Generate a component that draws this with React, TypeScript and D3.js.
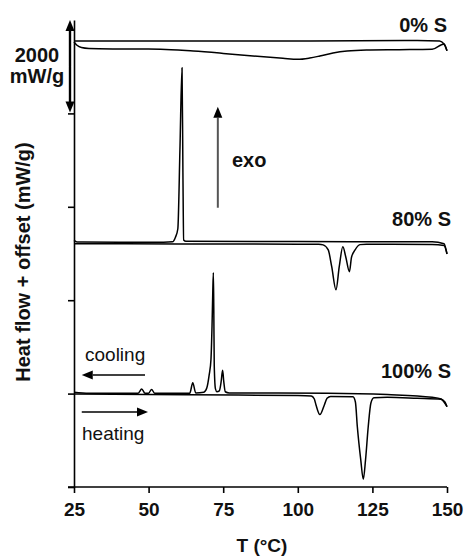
import React, { useEffect, useRef } from "react";
import { select, scaleLinear, axisBottom, axisLeft, line, curveMonotoneX } from "d3";

// heat flow (mW/g), before offset
const s0Cooling: [number, number][] = [
  [25, 0], [60, 0], [100, 0], [140, 10], [147.5, 0], [149, -64], [150, -210],
];
const s0Heating: [number, number][] = [
  [25, -20], [26, -90], [27.5, -140], [30, -160], [40, -170], [54, -175], [65, -215],
  [75, -265], [85, -320], [95, -370], [100, -392], [104, -364], [107.4, -321],
  [111.8, -257], [116.5, -214], [123, -193], [134, -186], [145, -178], [149, -64], [150, -210],
];
const s80Cooling: [number, number][] = [
  [25, 50], [26, 15], [40, 10], [55, 12], [58, 20], [59, 120], [59.8, 300], [60.5, 1990],
  [61.2, 3750], [61.5, 1500], [61.75, 60], [62.5, 30], [100, 25], [145, 20], [149, -20], [150, -240],
];
const s80Heating: [number, number][] = [
  [25, -20], [60, -25], [100, -30], [107, -30], [108.5, -45], [110.2, -154], [111.35, -507],
  [112.8, -1006], [113.9, -507], [115.1, -86], [116.1, -310], [117.3, -620], [118, -310],
  [119.2, -154], [120.8, -40], [123, -30], [145, -35], [149, -60], [150, -240],
];
const s100Cooling: [number, number][] = [
  [25, 30], [30, 10], [46.5, 10], [47.7, 100], [48.8, 10], [50, 10], [51, 90], [52, 10],
  [63.8, 10], [64.8, 230], [65.8, 15], [68.5, 30], [69.5, 120], [70.3, 400], [70.9, 730],
  [71.25, 1430], [71.5, 2150], [71.7, 2590], [71.85, 1800], [72, 600], [72.4, 100], [72.9, 40],
  [73.7, 60], [74.3, 250], [74.8, 500], [75.2, 250], [75.7, 40], [77, 15], [110, 10],
  [130, -20], [145, -80], [148, -115], [150, -280],
];
const s100Heating: [number, number][] = [
  [25, -10], [50, -20], [80, -30], [100, -40], [104.5, -50], [105.5, -110], [106.1, -243],
  [107.4, -450], [108.9, -243], [109.8, -100], [111, -60], [118.5, -70], [119.3, -180],
  [119.95, -710], [121.1, -1420], [121.95, -1835], [122.7, -1420], [123.6, -710],
  [124.5, -200], [125.5, -90], [130, -80], [140, -100], [148, -120], [149.3, -180], [150, -280],
];

const sampleLabels = ["0% S", "80% S", "100% S"];
const offsets = [9550, 5230, 2000];
const curves = [
  [s0Cooling, s0Heating],
  [s80Cooling, s80Heating],
  [s100Cooling, s100Heating],
];

const xTicks = [25, 50, 75, 100, 125, 150];
const yTicks = [0, 2000, 4000, 6000, 8000];

const FONT = "'Liberation Sans', Arial, Helvetica, sans-serif";

const App = () => {
  const xAxisRef = useRef<SVGGElement>(null);
  const yAxisRef = useRef<SVGGElement>(null);

  const x = scaleLinear().domain([25, 150]).range([74, 447]);
  const y = scaleLinear().domain([0, 10000]).range([487, 20]);

  useEffect(() => {
    const xAxis = axisBottom(x).tickValues(xTicks).tickSize(6).tickSizeOuter(0).tickPadding(10);
    const gx = select(xAxisRef.current).call(xAxis);
    gx.select(".domain").attr("stroke-width", 1.6).attr("d", `M68,0H${x(150)}`);
    gx.selectAll(".tick line").attr("stroke-width", 1.6);
    gx.selectAll(".tick text")
      .attr("font-family", FONT)
      .attr("font-size", 19)
      .attr("font-weight", "bold")
      .attr("fill", "#111");

    const yAxis = axisLeft(y).tickValues(yTicks).tickSize(6).tickSizeOuter(0).tickFormat(() => "");
    const gy = select(yAxisRef.current).call(yAxis);
    gy.select(".domain").attr("stroke-width", 1.6);
    gy.selectAll(".tick line").attr("stroke-width", 1.6);
  }, []);

  const path = line<[number, number]>()
    .x((d) => x(d[0]))
    .curve(curveMonotoneX);

  const arrow = (x1: number, y1: number, x2: number, y2: number, color: string, w = 1.6) => {
    const ang = Math.atan2(y2 - y1, x2 - x1);
    const len = 11;
    const half = 4.5;
    const bx = x2 - len * Math.cos(ang);
    const by = y2 - len * Math.sin(ang);
    const px = -Math.sin(ang) * half;
    const py = Math.cos(ang) * half;
    return (
      <g>
        <line x1={x1} y1={y1} x2={bx} y2={by} stroke={color} strokeWidth={w} />
        <path d={`M${x2},${y2}L${bx + px},${by + py}L${bx - px},${by - py}Z`} fill="#000" />
      </g>
    );
  };

  return (
    <svg width={467} height={557} style={{ position: "absolute", left: 0, top: 0, background: "#fff" }}>
      <g ref={xAxisRef} transform={`translate(0,${y(0)})`} />
      <g ref={yAxisRef} transform={`translate(${x(25)},0)`} />

      {curves.map((pair, i) =>
        pair.map((pts, j) => (
          <path
            key={`${i}-${j}`}
            d={path.y((d) => y(d[1] + offsets[i]))(pts) || ""}
            fill="none"
            stroke="#000"
            strokeWidth={1.5}
            strokeLinejoin="round"
          />
        ))
      )}

      {sampleLabels.map((s, i) => (
        <text
          key={s}
          x={i === 0 ? 447 : 451}
          y={[32, 225.5, 377.5][i]}
          textAnchor="end"
          fontFamily={FONT}
          fontSize={20}
          fontWeight="bold"
          fill="#111"
        >
          {s}
        </text>
      ))}

      {/* 2000 mW/g scale bar */}
      <line x1={70} y1={y(10000) + 8} x2={70} y2={y(8000) - 8} stroke="#000" strokeWidth={2.2} />
      {arrow(70, y(9000), 70, y(10000), "#000", 2.2)}
      {arrow(70, y(9000), 70, y(8000) - 1, "#000", 2.2)}
      <text x={37} y={62} textAnchor="middle" fontFamily={FONT} fontSize={20} fontWeight="bold" fill="#111">
        2000
      </text>
      <text x={37} y={83} textAnchor="middle" fontFamily={FONT} fontSize={20} fontWeight="bold" fill="#111">
        mW/g
      </text>

      {/* exo arrow */}
      {arrow(x(73.2), y(5980), x(73.2), y(8140), "#555", 2)}
      <text x={232} y={167} fontFamily={FONT} fontSize={20} fontWeight="bold" fill="#111">
        exo
      </text>

      {/* cooling / heating */}
      <text x={85} y={361} fontFamily={FONT} fontSize={19} fill="#111">
        cooling
      </text>
      {arrow(x(48.8), y(2398), x(27.6), y(2398), "#000", 1.6)}
      {arrow(x(27.6), y(1606), x(49.8), y(1606), "#000", 1.6)}
      <text x={82} y={440} fontFamily={FONT} fontSize={19} fill="#111">
        heating
      </text>

      <text
        transform="translate(30,262) rotate(-90)"
        textAnchor="middle"
        fontFamily={FONT}
        fontSize={20}
        fontWeight="bold"
        fill="#111"
      >
        Heat flow + offset (mW/g)
      </text>
      <text x={262} y={552} textAnchor="middle" fontFamily={FONT} fontSize={19} fontWeight="bold" fill="#111">
        T (°C)
      </text>
    </svg>
  );
};

export default App;
